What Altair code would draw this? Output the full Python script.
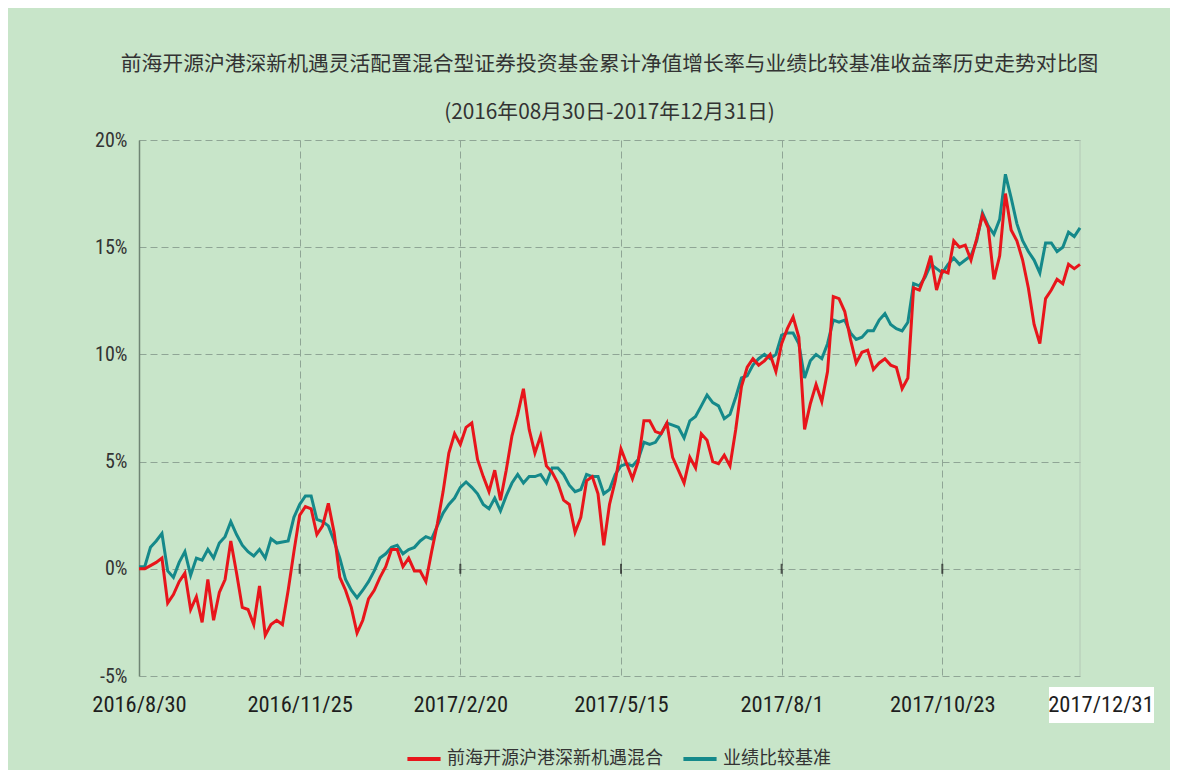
import altair as alt
import pandas as pd

title_lines = [
    "前海开源沪港深新机遇灵活配置混合型证券投资基金累计净值增长率与业绩比较基准收益率历史走势对比图",
    "(2016年08月30日-2017年12月31日)",
]
series_names = ["前海开源沪港深新机遇混合", "业绩比较基准"]
series_colors = ["#e8151b", "#15898a"]

tick_idx = [0, 56, 112, 168, 224, 280]
tick_labels = ["2016/8/30", "2016/11/25", "2017/2/20", "2017/5/15", "2017/8/1", "2017/10/23"]
end_idx = 328
end_label = "2017/12/31"
y_ticks = [-5, 0, 5, 10, 15, 20]

# trading-day index (every second trading day)
day = list(range(0, 329, 2))

fund = [
    0.0, 0.0, 0.15, 0.3, 0.5, -1.6, -1.2, -0.6, -0.2, -1.9,
    -1.3, -2.5, -0.5, -2.4, -1.1, -0.5, 1.3, -0.2, -1.8, -1.9,
    -2.6, -0.8, -3.1, -2.6, -2.4, -2.6, -1.0, 0.8, 2.5, 2.9,
    2.8, 1.6, 2.0, 3.05, 1.7, -0.4, -1.0, -1.8, -3.0, -2.4,
    -1.4, -1.0, -0.4, 0.1, 0.9, 0.9, 0.1, 0.5, -0.1, -0.1,
    -0.6, 0.8, 2.1, 3.6, 5.4, 6.3, 5.8, 6.6, 6.8, 5.1,
    4.3, 3.6, 4.6, 3.2, 4.6, 6.2, 7.2, 8.4, 6.5, 5.4,
    6.2, 4.8, 4.5, 4.0, 3.2, 3.0, 1.7, 2.4, 4.1, 4.3,
    3.5, 1.1, 3.0, 4.1, 5.6, 4.9, 4.2, 5.0, 6.9, 6.9,
    6.4, 6.3, 6.8, 5.2, 4.6, 4.0, 5.2, 4.7, 6.3, 6.0,
    5.0, 4.9, 5.3, 4.8, 6.5, 8.5, 9.4, 9.8, 9.5, 9.7,
    10.0, 9.2, 10.5, 11.2, 11.75, 10.8, 6.5, 7.7, 8.6, 7.8,
    9.2, 12.7, 12.6, 12.0, 10.7, 9.6, 10.1, 10.2, 9.3, 9.6,
    9.8, 9.5, 9.4, 8.4, 8.9, 13.1, 13.0, 13.7, 14.6, 13.0,
    13.9, 13.8, 15.3, 15.0, 15.1, 14.4, 15.4, 16.5, 15.9, 13.5,
    14.6, 17.5, 15.8, 15.3, 14.4, 13.1, 11.4, 10.5, 12.6, 13.0,
    13.5, 13.3, 14.2, 14.0, 14.2,
]

bench = [
    0.1, 0.1, 1.0, 1.3, 1.65, -0.1, -0.4, 0.3, 0.8, -0.3,
    0.5, 0.4, 0.9, 0.5, 1.2, 1.5, 2.2, 1.6, 1.1, 0.8,
    0.6, 0.9, 0.5, 1.4, 1.2, 1.25, 1.3, 2.4, 3.0, 3.4,
    3.4, 2.3, 2.2, 2.0, 1.3, 0.5, -0.5, -1.0, -1.35, -1.0,
    -0.6, -0.1, 0.5, 0.7, 1.0, 1.1, 0.7, 0.9, 1.0, 1.3,
    1.5, 1.4, 2.0, 2.6, 3.0, 3.3, 3.8, 4.05, 3.8, 3.5,
    3.0, 2.8, 3.3, 2.7, 3.4, 4.0, 4.4, 4.0, 4.3, 4.3,
    4.4, 4.0, 4.7, 4.7, 4.4, 3.9, 3.6, 3.7, 4.4, 4.3,
    4.3, 3.5, 3.7, 4.4, 4.8, 4.9, 4.8, 5.1, 5.9, 5.8,
    5.9, 6.3, 6.8, 6.7, 6.6, 6.1, 6.9, 7.1, 7.6, 8.1,
    7.75, 7.6, 7.0, 7.2, 8.0, 8.9, 9.0, 9.5, 9.8, 10.0,
    9.8, 10.0, 10.9, 11.0, 11.0, 10.5, 8.9, 9.7, 10.0, 9.8,
    10.5, 11.6, 11.5, 11.6, 11.0, 10.7, 10.8, 11.1, 11.1, 11.6,
    11.9, 11.4, 11.2, 11.1, 11.5, 13.3, 13.2, 13.6, 14.2, 14.0,
    13.8, 14.2, 14.5, 14.2, 14.4, 14.6, 15.3, 16.6, 16.0, 15.6,
    16.3, 18.4, 17.3, 16.1, 15.3, 14.8, 14.4, 13.8, 15.2, 15.2,
    14.8, 15.0, 15.7, 15.5, 15.9,
]

n = len(day)
df_fund = pd.DataFrame({"day": day, "value": fund, "series": [series_names[0]] * n})
df_bench = pd.DataFrame({"day": day, "value": bench, "series": [series_names[1]] * n})

num_font = "Liberation Sans Narrow, Roboto Condensed, DejaVu Sans Condensed, sans-serif"
cjk_font = "Noto Sans CJK SC"
grid_color = "#8fa595"
bg = "#c8e5c9"

label_expr = " : ".join(f"datum.value == {i} ? '{l}'" for i, l in zip(tick_idx, tick_labels)) + " : ''"

x_enc = alt.X(
    "day:Q",
    scale=alt.Scale(domain=[0, end_idx], nice=False, zero=False),
    axis=alt.Axis(
        values=tick_idx, labelExpr=label_expr, grid=True, gridDash=[7, 4],
        gridColor=grid_color, gridWidth=1, domain=False, ticks=False,
        labelFont=num_font, labelFontSize=22.5, labelColor="#1e1e1e",
        labelPadding=17, title=None, labelFlush=False,
    ),
)
y_enc = alt.Y(
    "value:Q",
    scale=alt.Scale(domain=[-5, 20], nice=False, zero=False),
    axis=alt.Axis(
        values=y_ticks, labelExpr="datum.value + '%'", grid=True, gridDash=[7, 4],
        gridColor=grid_color, gridWidth=1, domain=True, domainColor="#6f8574",
        domainWidth=1.5, ticks=False, labelFont=num_font, labelFontSize=20,
        labelColor="#333333", labelPadding=12, title=None,
    ),
)
color_enc = alt.Color(
    "series:N",
    scale=alt.Scale(domain=series_names, range=series_colors),
    legend=alt.Legend(
        title=None, orient="none", legendX=266, legendY=600, direction="horizontal",
        symbolType="stroke", symbolSize=1100, symbolStrokeWidth=4,
        labelFont=cjk_font, labelFontSize=18, labelColor="#333333", labelLimit=0,
        labelOffset=4, columnPadding=12, padding=0,
    ),
)

bench_line = alt.Chart(df_bench).mark_line(strokeWidth=3).encode(x=x_enc, y=y_enc, color=color_enc)
fund_line = alt.Chart(df_fund).mark_line(strokeWidth=3).encode(x=x_enc, y=y_enc, color=color_enc)

right_edge = alt.Chart(pd.DataFrame({"day": [end_idx]})).mark_rule(
    color="#b3c8b6", strokeWidth=1
).encode(x="day:Q")

zero_ticks = alt.Chart(pd.DataFrame({"day": tick_idx[1:], "value": [0] * (len(tick_idx) - 1)})).mark_tick(
    orient="vertical", size=10, thickness=2, color="#1a1a1a"
).encode(x="day:Q", y="value:Q")

end_df = pd.DataFrame({"day": [end_idx], "label": [end_label]})
end_box = alt.Chart(end_df).mark_rect(color="white", xOffset=-31, x2Offset=74).encode(
    x="day:Q", x2="day:Q", y=alt.value(547), y2=alt.value(583)
)
end_text = alt.Chart(end_df).mark_text(
    font=num_font, fontSize=22.5, color="#1e1e1e", dx=21, baseline="middle", align="center"
).encode(x="day:Q", y=alt.value(565), text="label:N")

chart = alt.layer(right_edge, bench_line, fund_line, zero_ticks, end_box, end_text).properties(
    width=941,
    height=536,
    padding={"left": 131, "top": 132, "right": 90, "bottom": 94},
    autosize=alt.AutoSizeParams(type="none"),
    background=bg,
    title=alt.TitleParams(
        text=title_lines, font=cjk_font, fontSize=20.8, fontWeight="normal",
        color="#333333", lineHeight=48, anchor="middle", offset=6,
    ),
).configure_view(stroke=None)

chart.save("out.html", embed_options={"renderer": "svg", "actions": False})
